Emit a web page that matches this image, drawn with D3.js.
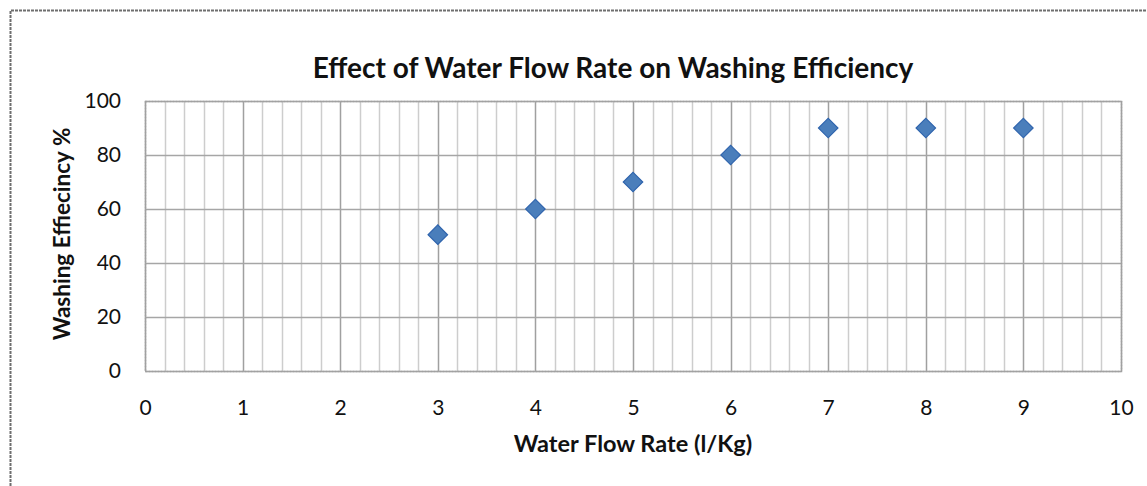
<!DOCTYPE html>
<html><head><meta charset="utf-8">
<script src="https://cdn.jsdelivr.net/npm/d3@7"></script>
<style>body{margin:0;background:#fff}svg{display:block}</style>
</head><body><svg id="c" width="1147" height="486"></svg>
<script>
const flowRate = [3, 4, 5, 6, 7, 8, 9];
const efficiency = [50.5, 60, 70, 80, 90, 90, 90];
const xTicks = [0,1,2,3,4,5,6,7,8,9,10];
const yTicks = [0,20,40,60,80,100];
const titleText = "Effect of Water Flow Rate on Washing Efficiency";
const xTitle = "Water Flow Rate (l/Kg)";
const yTitle = "Washing Effiecincy %";

const svg = d3.select("#c");
const W=1147,H=486;
const m={l:145,r:1121,t:101,b:371};
const x=d3.scaleLinear().domain([0,10]).range([m.l,m.r]);
const y=d3.scaleLinear().domain([0,100]).range([m.b,m.t]);
const font="Lato, 'Open Sans', sans-serif";

// outer border
svg.append("path").attr("d",`M10.5,${H} V10.5 H${W}`).attr("fill","none")
  .attr("stroke","#6e6e6e").attr("stroke-width",2).attr("stroke-dasharray","3,1");

// minor vertical grid
const minor=d3.range(0,10.001,0.2).filter(v=>Math.abs(v-Math.round(v))>1e-6);
svg.append("g").selectAll("line").data(minor).join("line")
  .attr("x1",d=>Math.round(x(d))+0.5).attr("x2",d=>Math.round(x(d))+0.5)
  .attr("y1",m.t).attr("y2",m.b).attr("stroke","#cdcdcd").attr("stroke-width",1.5);
// major vertical grid
svg.append("g").selectAll("line").data(xTicks).join("line")
  .attr("x1",d=>Math.round(x(d))+0.5).attr("x2",d=>Math.round(x(d))+0.5)
  .attr("y1",m.t).attr("y2",m.b).attr("stroke","#a0a0a0").attr("stroke-width",1.5);
// horizontal grid
svg.append("g").selectAll("line").data(yTicks).join("line")
  .attr("x1",m.l).attr("x2",m.r)
  .attr("y1",d=>Math.round(y(d))+0.5).attr("y2",d=>Math.round(y(d))+0.5)
  .attr("stroke","#a6a6a6").attr("stroke-width",1.5);
// plot border
svg.append("rect").attr("x",m.l+0.5).attr("y",m.t+0.5).attr("width",m.r-m.l).attr("height",m.b-m.t)
  .attr("fill","none").attr("stroke","#a0a0a0").attr("stroke-width",1.5).attr("stroke-dasharray","2,1");

// axes labels via d3 axes
const xa=svg.append("g").attr("transform",`translate(0,${m.b})`)
  .call(d3.axisBottom(x).tickValues(xTicks).tickSize(0).tickPadding(29).tickFormat(d3.format("d")));
xa.select(".domain").remove();
xa.selectAll("text").attr("font-family",font).attr("font-size",21).attr("fill","#111");
const ya=svg.append("g").attr("transform",`translate(${m.l},0)`)
  .call(d3.axisLeft(y).tickValues(yTicks).tickSize(0).tickPadding(24).tickFormat(d3.format("d")));
ya.select(".domain").remove();
ya.selectAll("text").attr("font-family",font).attr("font-size",21).attr("fill","#111");

// titles
svg.append("text").attr("x",613).attr("y",78).attr("text-anchor","middle")
  .attr("font-family",font).attr("font-weight","bold").attr("font-size",28).attr("fill","#111").text(titleText);
svg.append("text").attr("x",633).attr("y",452).attr("text-anchor","middle")
  .attr("font-family",font).attr("font-weight","bold").attr("font-size",23.5).attr("fill","#111").text(xTitle);
svg.append("text").attr("transform",`translate(70,234) rotate(-90)`).attr("text-anchor","middle")
  .attr("font-family",font).attr("font-weight","bold").attr("font-size",22.5).attr("fill","#111").text(yTitle);

// markers
svg.append("g").selectAll("path").data(flowRate).join("path")
  .attr("transform",(d,i)=>`translate(${x(d)},${y(efficiency[i])}) rotate(45)`)
  .attr("d",d3.symbol().type(d3.symbolSquare).size(190))
  .attr("fill","#4a7ebb").attr("stroke","#2f64ad").attr("stroke-width",1.2);
</script></body></html>
